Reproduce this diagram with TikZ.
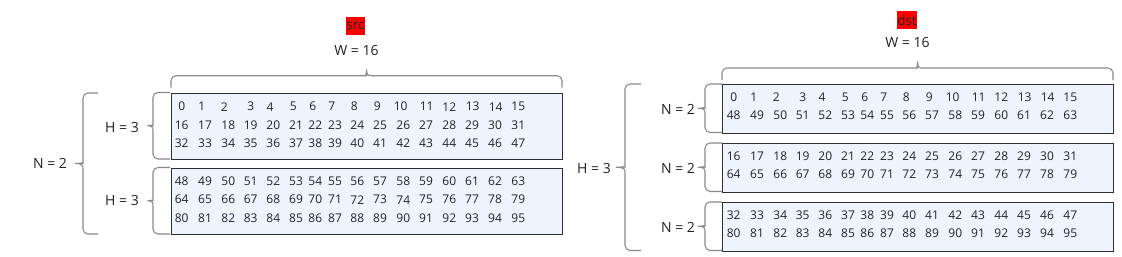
\documentclass[tikz,border=0pt]{standalone}
\usepackage{fontspec}
\setmainfont{Open Sans}
\definecolor{boxfill}{HTML}{EEF3FE}
\definecolor{boxline}{HTML}{2E2E2E}
\definecolor{brcline}{HTML}{8A8A8A}
\definecolor{txt}{HTML}{222222}
\def\rowA{11.7,31.7,54.3,80.7,100,123.3,142.7,161.7,184.3,207.3,230.7,256.7,279.3,302.7,325.7,348.3}
\def\rowB{11.7,35,58.3,80.7,103.3,126,145.3,165,187.3,210,233.3,256,279.3,302,325,348.3}
\newcommand\myrow[5]{%
  \foreach \o [count=\i from 0] in #5 {%
    \pgfmathtruncatemacro\v{#4+\i}%
    \node[num] (#1\v) at ({#2+\o},{-#3}) {\v};
  }}
% vertical brace: #1 end x, #2 vertical x, #3 tip x, #4 top y, #5 bottom y
\newcommand\vbrc[5]{%
  \pgfmathsetmacro\ym{(#4+#5)/2}%
  \draw[brc] (#1,-#4) [rounded corners=5pt] -- (#2,-#4) -- (#2,{-(\ym-5)}) [sharp corners]
    .. controls (#2,{-(\ym-1.5)}) and ({#2-1},-\ym) .. (#3,-\ym)
    .. controls ({#2-1},-\ym) and (#2,{-(\ym+1.5)}) .. (#2,{-(\ym+5)})
    [rounded corners=5pt] -- (#2,-#5) -- (#1,-#5);}
% horizontal brace: #1 left x, #2 right x, #3 end y, #4 line y, #5 tip y
\newcommand\hbrc[5]{%
  \pgfmathsetmacro\xm{(#1+#2)/2}%
  \draw[brc] (#1,-#3) [rounded corners=5pt] -- (#1,-#4) -- ({\xm-5},-#4) [sharp corners]
    .. controls ({\xm-1.5},-#4) and (\xm,{-(#4-1)}) .. (\xm,-#5)
    .. controls (\xm,{-(#4-1)}) and ({\xm+1.5},-#4) .. ({\xm+5},-#4)
    [rounded corners=5pt] -- (#2,-#4) -- (#2,-#3);}
\begin{document}
\begin{tikzpicture}[x=1pt,y=1pt,
  num/.style={font=\fontsize{12}{14}\selectfont, text=txt, inner sep=0pt},
  lbl/.style={font=\fontsize{14}{16}\selectfont, text=txt, inner sep=0pt},
  tag/.style={fill=red, text=txt, font=\fontsize{13.5}{15}\selectfont, inner xsep=0.3pt, inner ysep=0pt, minimum height=18pt},
  box/.style={draw=boxline, fill=boxfill, line width=1.1pt, anchor=north west, inner sep=0pt},
  brc/.style={draw=brcline, line width=1.1pt}]
\fill[white] (0,0) rectangle (1122,-257);
\useasboundingbox (0,0) rectangle (1122,-257);
% ---------- src ----------
\node[tag] (srctag) at (355.5,-26) {src};
\node[lbl] (srcW) at (356.5,-50) {W = 16};
\hbrc{171}{562}{87.5}{75.7}{69.3}
\node[box, minimum width=391pt, minimum height=66.5pt] (sb1) at (170.5,-92.5) {};
\node[box, minimum width=391pt, minimum height=66.5pt] (sb2) at (170.5,-167.5) {};
\vbrc{170}{153}{147.5}{92.5}{159}
\vbrc{170}{153}{147.5}{167.5}{234}
\vbrc{98}{83}{75}{93}{234}
\node[lbl] (srcH1) at (122,-127) {H = 3};
\node[lbl] (srcH2) at (122,-200.5) {H = 3};
\node[lbl] (srcN) at (50,-163) {N = 2};
\myrow{s}{170}{106.7}{0}{\rowA}
\myrow{s}{170}{124.9}{16}{\rowB}
\myrow{s}{170}{143.1}{32}{\rowB}
\myrow{s}{170}{181.5}{48}{\rowB}
\myrow{s}{170}{199.7}{64}{\rowB}
\myrow{s}{170}{217.9}{80}{\rowB}
% ---------- dst ----------
\node[tag] (dsttag) at (907,-20) {dst};
\node[lbl] (dstW) at (907.5,-42) {W = 16};
\hbrc{722}{1113}{80}{68}{61.5}
\node[box, minimum width=391pt, minimum height=48.5pt] (db1) at (722,-84) {};
\node[box, minimum width=391pt, minimum height=48.5pt] (db2) at (722,-143) {};
\node[box, minimum width=391pt, minimum height=48.5pt] (db3) at (722,-202) {};
\vbrc{722}{705}{698}{84}{132.5}
\vbrc{722}{705}{698}{143}{191.5}
\vbrc{722}{705}{698}{202}{250.5}
\vbrc{641}{625}{616}{84}{250.5}
\node[lbl] (dstH) at (594,-168) {H = 3};
\node[lbl] (dstN1) at (678,-109) {N = 2};
\node[lbl] (dstN2) at (678,-168) {N = 2};
\node[lbl] (dstN3) at (678,-227) {N = 2};
\myrow{d}{722}{97}{0}{\rowA}
\myrow{d}{722}{115.3}{48}{\rowB}
\myrow{d}{722}{156}{16}{\rowB}
\myrow{d}{722}{174.3}{64}{\rowB}
\myrow{d}{722}{215}{32}{\rowB}
\myrow{d}{722}{233.3}{80}{\rowB}
\end{tikzpicture}
\end{document}
